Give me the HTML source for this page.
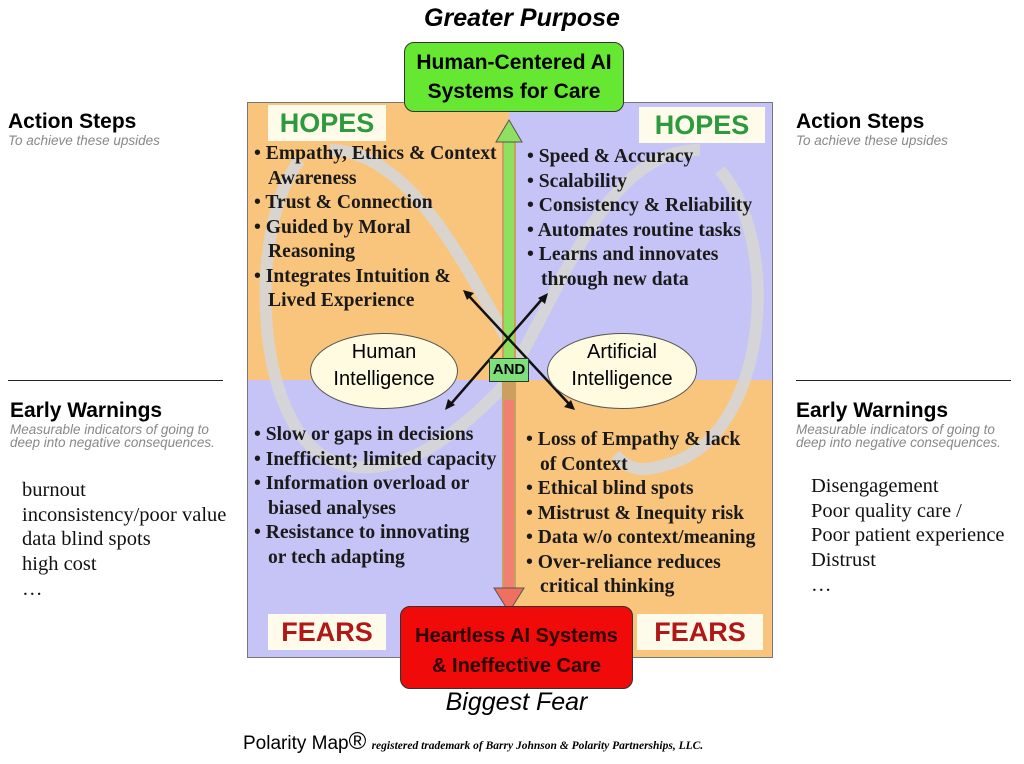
<!DOCTYPE html>
<html><head><meta charset="utf-8"><style>
body{margin:0;width:1024px;height:764px;background:#fff;position:relative;overflow:hidden;font-family:"Liberation Sans",sans-serif}
.a{position:absolute}
.q{position:absolute}
ul{list-style:none;margin:0;padding:0;font-family:"Liberation Serif",serif;font-weight:bold;font-size:19.6px;line-height:24.5px;color:#1a1a1a;white-space:nowrap}
li{padding-left:14px;text-indent:-14px}
li:before{content:"• ";}
.lab{position:absolute;background:#fffbea;font-weight:bold;font-size:27px;text-align:center;line-height:36px}
.ell{position:absolute;background:#fffbe0;border:1.5px solid #555;border-radius:50%;text-align:center;font-size:20px;line-height:27px;box-sizing:border-box;padding-top:5px}
.side h{display:block;font-weight:bold;font-size:21px}
.side s{display:block;text-decoration:none;font-style:italic;color:#888;font-size:13.5px;line-height:13px}
.plain{font-family:"Liberation Serif",serif;font-size:20.5px;line-height:24.7px;color:#111;white-space:nowrap}
</style></head><body>
<div class="a" style="left:0;top:4px;width:1044px;text-align:center;font-weight:bold;font-style:italic;font-size:25px">Greater Purpose</div>
<div class="q" style="left:247px;top:102px;width:262px;height:278px;background:#f9c57c"></div>
<div class="q" style="left:509px;top:102px;width:264px;height:278px;background:#c6c4f6"></div>
<div class="q" style="left:247px;top:380px;width:262px;height:278px;background:#c6c4f6"></div>
<div class="q" style="left:509px;top:380px;width:264px;height:278px;background:#f9c57c"></div>
<div class="q" style="left:247px;top:102px;width:524px;height:554px;border:1px solid #777"></div>
<svg class="a" style="left:0;top:0" width="1024" height="764">
<g fill="none" stroke="#d6d6d6" stroke-width="12" opacity="0.9">
<path d="M300 160 C250 220 250 420 330 460 C400 490 470 420 500 390"/>
<path d="M720 170 C780 240 770 420 680 460 C640 475 630 470 615 455"/>
<path d="M520 360 C480 300 420 150 330 150"/>
<path d="M500 390 C560 300 600 150 700 150"/>
</g>
<path d="M509 130 L509 600" stroke="#c9a060" stroke-width="14"/>
<path d="M509 130 L509 370" stroke="#8fe060" stroke-width="10"/>
<path d="M509 400 L509 600" stroke="#f08070" stroke-width="10"/>
<polygon points="509,120 496,142 522,142" fill="#8fe060" stroke="#555"/>
<polygon points="509,612 494,588 524,588" fill="#f07060" stroke="#555"/>
<g stroke="#111" stroke-width="2.5">
<line x1="468" y1="295" x2="570" y2="405"/><line x1="543" y1="298" x2="450" y2="405"/>
</g>
<g fill="#111"><polygon points="463,290 474,293 467,300"/><polygon points="575,410 564,407 571,400"/><polygon points="548,293 545,304 538,298"/><polygon points="445,410 448,399 455,405"/></g>
</svg>
<div class="a" style="left:489px;top:358px;width:38px;height:22px;background:#7ee07a;border:1px solid #333;font-weight:bold;font-size:15px;text-align:center;line-height:22px">AND</div>
<div class="lab" style="left:268px;top:105px;width:118px;color:#2d9a3e">HOPES</div>
<div class="lab" style="left:639px;top:107px;width:126px;color:#2d9a3e">HOPES</div>
<div class="lab" style="left:268px;top:614px;width:118px;color:#b01818">FEARS</div>
<div class="lab" style="left:637px;top:614px;width:126px;color:#b01818">FEARS</div>
<div class="a" style="left:404px;top:42px;width:220px;height:70px;background:#66e832;border:1.5px solid #333;border-radius:10px;box-sizing:border-box;text-align:center;font-weight:bold;font-size:21px;line-height:29px;padding-top:5px">Human-Centered AI<br>Systems for Care</div>
<div class="a" style="left:400px;top:606px;width:233px;height:83px;background:#f00a0a;border:1.5px solid #333;border-radius:10px;box-sizing:border-box;text-align:center;font-weight:bold;font-size:20px;line-height:30px;padding-top:14px;color:#2a0000">Heartless AI Systems<br>&amp; Ineffective Care</div>
<div class="a" style="left:400px;top:688px;width:233px;text-align:center;font-style:italic;font-size:25px">Biggest Fear</div>
<div class="ell" style="left:310px;top:333px;width:148px;height:76px">Human<br>Intelligence</div>
<div class="ell" style="left:547px;top:333px;width:150px;height:76px">Artificial<br>Intelligence</div>
<ul class="a" style="left:254px;top:142px"><li>Empathy, Ethics &amp; Context<br>Awareness</li><li>Trust &amp; Connection</li><li>Guided by Moral<br>Reasoning</li><li>Integrates Intuition &amp;<br>Lived Experience</li></ul>
<ul class="a" style="left:527px;top:145px"><li>Speed &amp; Accuracy</li><li>Scalability</li><li>Consistency &amp; Reliability</li><li>Automates routine tasks</li><li>Learns and innovates<br>through new data</li></ul>
<ul class="a" style="left:254px;top:423px"><li>Slow or gaps in decisions</li><li>Inefficient; limited capacity</li><li>Information overload or<br>biased analyses</li><li>Resistance to innovating<br>or tech adapting</li></ul>
<ul class="a" style="left:526px;top:428px"><li>Loss of Empathy &amp; lack<br>of Context</li><li>Ethical blind spots</li><li>Mistrust &amp; Inequity risk</li><li>Data w/o context/meaning</li><li>Over-reliance reduces<br>critical thinking</li></ul>
<div class="a side" style="left:8px;top:110px"><h>Action Steps</h><s>To achieve these upsides</s></div>
<div class="a side" style="left:796px;top:110px"><h>Action Steps</h><s>To achieve these upsides</s></div>
<div class="a" style="left:8px;top:380px;width:215px;border-top:1.5px solid #222"></div>
<div class="a" style="left:796px;top:380px;width:215px;border-top:1.5px solid #222"></div>
<div class="a side" style="left:10px;top:399px"><h>Early Warnings</h><s>Measurable indicators of going to<br>deep into negative consequences.</s></div>
<div class="a side" style="left:796px;top:399px"><h>Early Warnings</h><s>Measurable indicators of going to<br>deep into negative consequences.</s></div>
<div class="a plain" style="left:22px;top:478px">burnout<br>inconsistency/poor value<br>data blind spots<br>high cost<br>…</div>
<div class="a plain" style="left:811px;top:474px">Disengagement<br>Poor quality care /<br>Poor patient experience<br>Distrust<br>…</div>
<div class="a" style="left:243px;top:728px;font-size:19px">Polarity Map<span style="font-size:24px">®</span> <span style="font-family:'Liberation Serif',serif;font-style:italic;font-weight:bold;font-size:11.5px">registered trademark of Barry Johnson &amp; Polarity Partnerships, LLC.</span></div>
</body></html>
